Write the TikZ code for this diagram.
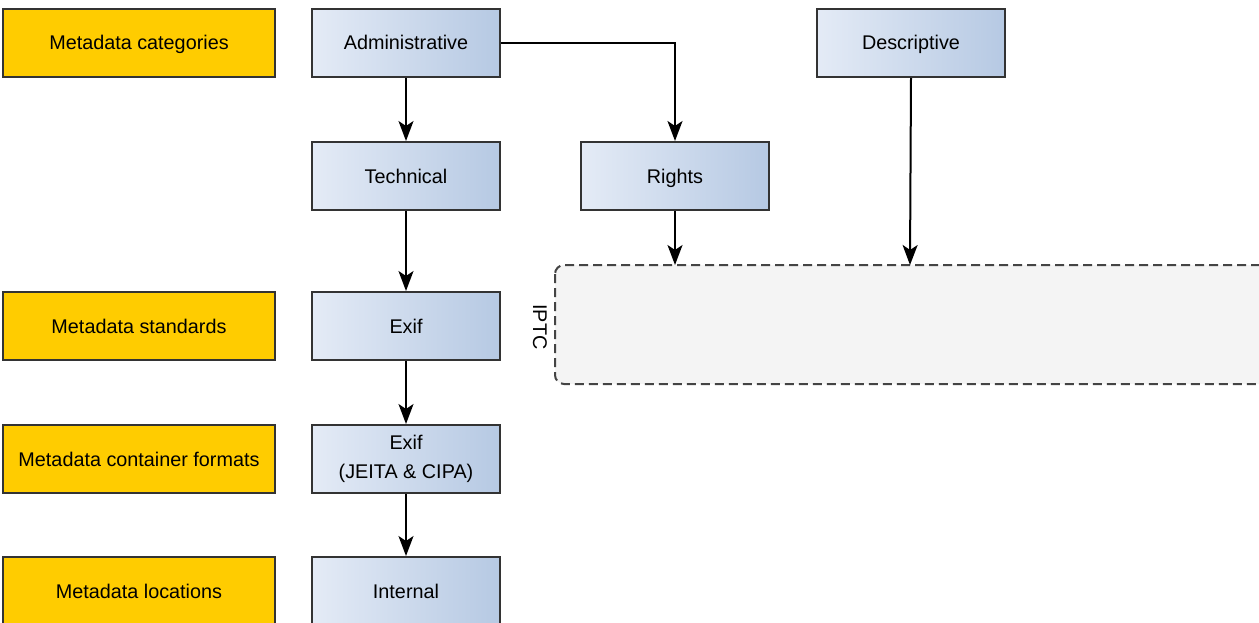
\documentclass[tikz,border=0pt]{standalone}
\usepackage{fontspec}
\setmainfont{Liberation Sans}
\usetikzlibrary{arrows.meta}
\definecolor{yel}{HTML}{FFCC00}
\definecolor{bl}{HTML}{E4EBF6}
\definecolor{br}{HTML}{B6C9E3}
\definecolor{edge}{HTML}{333333}
\definecolor{cont}{HTML}{F4F4F4}
\definecolor{dash}{HTML}{444444}
\begin{document}
\begin{tikzpicture}[x=1pt,y=-1pt,
  every node/.style={font=\fontsize{19.8}{29}\selectfont, text=black},
  cat/.style={draw=edge, line width=2pt, fill=yel, minimum width=272pt, minimum height=68pt, inner sep=0pt, anchor=north west, align=center, text height=14pt, text depth=0pt},
  item/.style={draw=edge, line width=2pt, left color=bl, right color=br, minimum width=188pt, minimum height=68pt, inner sep=0pt, anchor=north west, align=center},
  one/.style={text height=14pt, text depth=0pt},
  conn/.style={draw=black, line width=2pt, -{Stealth[length=20pt,width=15pt,inset=5pt]}}]
\useasboundingbox (0,0) rectangle (1259,623);
\clip (0,0) rectangle (1259,623);
% container
\draw[draw=dash, fill=cont, line width=2pt, dash pattern=on 9pt off 5pt, rounded corners=9pt]
  (555,265) rectangle (1275,384);
\coordinate (ctopR) at (675,265);
\coordinate (ctopD) at (910,265);
\node[rotate=-90, one] (iptc) at (540,327) {IPTC};
% categories
\node[cat] (c1) at (2,8) {Metadata categories};
\node[cat] (c2) at (2,291) {Metadata standards};
\node[cat] (c3) at (2,424) {Metadata container formats};
\node[cat] (c4) at (2,556) {Metadata locations};
% items
\node[item, one] (adm) at (311,8) {Administrative};
\node[item, one] (tech) at (311,141) {Technical};
\node[item, one] (rights) at (580,141) {Rights};
\node[item, one] (desc) at (816,8) {Descriptive};
\node[item, one] (exif) at (311,291) {Exif};
\node[item] (exifc) at (311,424) {Exif\\(JEITA \& CIPA)};
\node[item, one] (int) at (311,556) {Internal};
% connectors
\draw[conn] (adm.south) -- (tech.north);
\draw[conn] (adm.east) -| (rights.north);
\draw[conn] (tech.south) -- (exif.north);
\draw[conn] (exif.south) -- (exifc.north);
\draw[conn] (exifc.south) -- (int.north);
\draw[conn] (rights.south) -- (ctopR);
\draw[conn] (desc.south) -- (ctopD);
\end{tikzpicture}
\end{document}
